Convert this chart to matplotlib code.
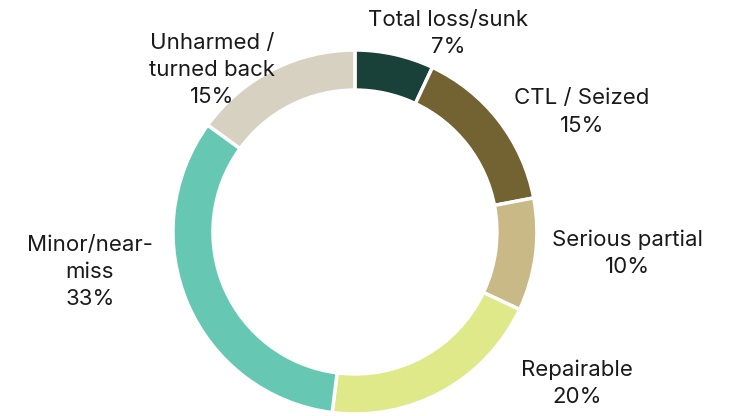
import matplotlib.pyplot as plt

# Outcome shares (percent), clockwise from 12 o'clock
labels = ['Total loss/sunk', 'CTL / Seized', 'Serious partial', 'Repairable',
          'Minor/near-\nmiss', 'Unharmed /\nturned back']
values = [7, 15, 10, 20, 33, 15]
colors = ['#19413a', '#736232', '#c9b986', '#e0e98a', '#66c8b2', '#d6d1c1']

# where each label block sits (pie data units, radius = 1)
label_pos = [(0.511, 1.090), (1.247, 0.659), (1.495, -0.115),
             (1.220, -0.830), (-1.456, -0.220), (-0.786, 0.890)]

plt.rcParams['font.family'] = ['Inter', 'DejaVu Sans']

fig = plt.figure(figsize=(7.39, 4.16), dpi=100)
ax = fig.add_axes([0.234, 0.0048, 0.4926, 0.875])

ax.pie(values, colors=colors, startangle=90, counterclock=False, radius=1,
       wedgeprops=dict(width=0.22, edgecolor='white', linewidth=2.5))

for lab, v, (x, y) in zip(labels, values, label_pos):
    ax.text(x, y, f'{lab}\n{v}%', ha='center', va='center', fontsize=16,
            color='#1a1a1a', linespacing=1.45)

ax.set_xlim(-1, 1)
ax.set_ylim(-1, 1)
ax.set_axis_off()

plt.savefig('out.png', dpi=100)
